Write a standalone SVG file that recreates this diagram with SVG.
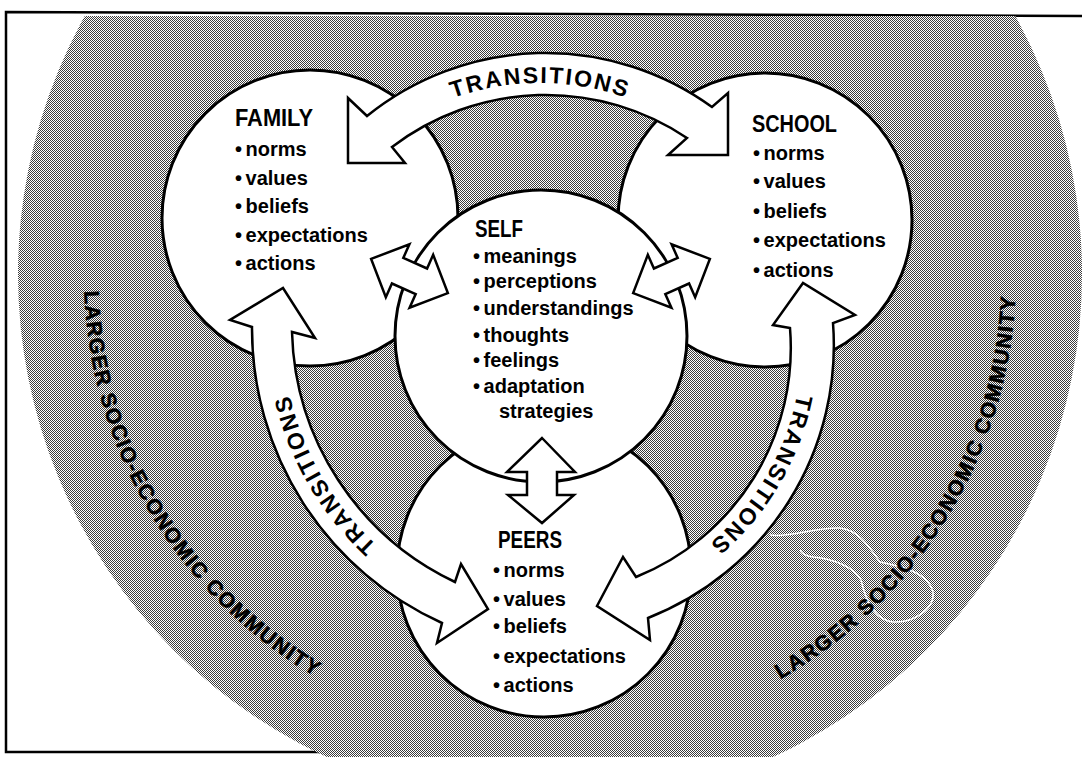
<svg xmlns="http://www.w3.org/2000/svg" width="1082" height="757" viewBox="0 0 1082 757">
<defs>
<pattern id="halftone" width="2" height="2" patternUnits="userSpaceOnUse"><rect width="2" height="2" fill="#fff"/><rect width="1" height="1" fill="#3c3c3c"/><rect x="1" y="1" width="1" height="1" fill="#3c3c3c"/></pattern>
<clipPath id="frameClip"><rect x="0" y="16" width="1082" height="741"/></clipPath>
<path id="pTop" d="M 356.9,158.9 A 259 259 0 0 1 723.1,158.9"/>
<path id="pLeftArc" d="M 476.8,606.2 A 296 296 0 0 1 286.5,276.6"/>
<path id="pRightArc" d="M 798,298.5 A 262 262 0 0 1 625.3,591.7"/>
<path id="pOuterL" d="M 112.1,114.6 A 466 466 0 0 0 485.1,735.5"/>
<path id="pOuterR" d="M 614.9,735.5 A 466 466 0 0 0 990.6,122.3"/>
</defs>
<style>
.node circle {fill:#fff; stroke:#000; stroke-width:3}
.arrow {fill:#fff; stroke:#000; stroke-width:2.5; stroke-linejoin:miter}
text {font-family:"Liberation Sans", Arial, sans-serif; font-weight:bold; fill:#000}
.title {font-size:24px}
.item {font-size:20px; word-spacing:-2px}
.band {font-size:23px; letter-spacing:2px}
.outer {font-size:21px; letter-spacing:1.6px; stroke:#000; stroke-width:0.6px}
</style>
<rect width="1082" height="757" fill="#fff"/>
<g id="background">
<polyline points="1082,16 6,12 6,752 330,752" fill="none" stroke="#000" stroke-width="2.5"/>
<circle cx="550" cy="274" r="532" fill="url(#halftone)" clip-path="url(#frameClip)"/>
<path d="M 770,535 C 790,538 815,527 840,528 C 858,530 868,545 880,562 C 900,566 928,572 933,592 C 935,608 915,623 893,622 C 876,620 866,602 861,580 C 855,568 835,559 813,557 C 806,556 801,553 800,550" fill="none" stroke="#fff" stroke-width="1.5"/>
<text class="outer"><textPath href="#pOuterL" startOffset="50%" text-anchor="middle">LARGER SOCIO-ECONOMIC COMMUNITY</textPath></text>
<text class="outer"><textPath href="#pOuterR" startOffset="50%" text-anchor="middle">LARGER SOCIO-ECONOMIC COMMUNITY</textPath></text>
</g>
<g id="family" class="node">
<circle cx="310" cy="218" r="148"/>
<text class="title" x="235" y="126" textLength="78" lengthAdjust="spacingAndGlyphs">FAMILY</text>
<text class="item" x="235" y="156">• norms</text>
<text class="item" x="235" y="185">• values</text>
<text class="item" x="235" y="213">• beliefs</text>
<text class="item" x="235" y="242">• expectations</text>
<text class="item" x="235" y="270">• actions</text>
</g>
<g id="school" class="node">
<circle cx="765" cy="220" r="147"/>
<text class="title" x="752" y="132" textLength="85" lengthAdjust="spacingAndGlyphs">SCHOOL</text>
<text class="item" x="753" y="160">• norms</text>
<text class="item" x="753" y="188">• values</text>
<text class="item" x="753" y="218">• beliefs</text>
<text class="item" x="753" y="247">• expectations</text>
<text class="item" x="753" y="277">• actions</text>
</g>
<g id="peers" class="node">
<circle cx="544" cy="570" r="147"/>
<text class="title" x="498" y="548" textLength="64" lengthAdjust="spacingAndGlyphs">PEERS</text>
<text class="item" x="493" y="577">• norms</text>
<text class="item" x="493" y="606">• values</text>
<text class="item" x="493" y="633">• beliefs</text>
<text class="item" x="493" y="663">• expectations</text>
<text class="item" x="493" y="692">• actions</text>
</g>
<g id="self" class="node">
<circle cx="541" cy="336" r="146"/>
<text class="title" x="475" y="237" textLength="48" lengthAdjust="spacingAndGlyphs">SELF</text>
<text class="item" x="473" y="263">• meanings</text>
<text class="item" x="473" y="288">• perceptions</text>
<text class="item" x="473" y="315">• understandings</text>
<text class="item" x="473" y="342">• thoughts</text>
<text class="item" x="473" y="367">• feelings</text>
<text class="item" x="473" y="393">• adaptation</text>
<text class="item" x="499" y="418">strategies</text>
</g>
<g id="connectors">
<path id="arrow-family-school" class="arrow" d="M 367,116 A 284 284 0 0 1 712,107 L 728,93 L 728,155 L 668,155 L 687,138 A 253 253 0 0 0 392,147 L 405,163 L 348,163 L 348,98 Z"/>
<path id="arrow-family-peers" class="arrow" d="M 252,327 L 230,320 L 283,288 L 315,338 L 292,332 A 285 285 0 0 0 455,582 L 461,564 L 488,609 L 437,643 L 442,623 A 323 323 0 0 1 252,327 Z"/>
<path id="arrow-school-peers" class="arrow" d="M 790,328 L 773,325 L 803,283 L 855,315 L 833,323 A 293 293 0 0 1 648,618 L 650,640 L 597,606 L 623,557 L 636,577 A 247 247 0 0 0 790,328 Z"/>
<path id="arrow-family-self" class="arrow" transform="translate(409.5,276) rotate(24)" d="M -42,0 L -13,-29 L -13,-14 L 13,-14 L 13,-29 L 42,0 L 13,29 L 13,14 L -13,14 L -13,29 Z"/>
<path id="arrow-school-self" class="arrow" transform="translate(671.5,276) rotate(-24)" d="M -42,0 L -13,-29 L -13,-14 L 13,-14 L 13,-29 L 42,0 L 13,29 L 13,14 L -13,14 L -13,29 Z"/>
<path id="arrow-self-peers" class="arrow" d="M 542,438 L 575,472 L 557,472 L 557,495 L 574,495 L 542,523 L 508,495 L 527,495 L 527,472 L 507,472 Z"/>
<text class="band"><textPath href="#pTop" startOffset="50%" text-anchor="middle">TRANSITIONS</textPath></text>
<text class="band"><textPath href="#pLeftArc" startOffset="50%" text-anchor="middle">TRANSITIONS</textPath></text>
<text class="band"><textPath href="#pRightArc" startOffset="50%" text-anchor="middle">TRANSITIONS</textPath></text>
</g>
</svg>
